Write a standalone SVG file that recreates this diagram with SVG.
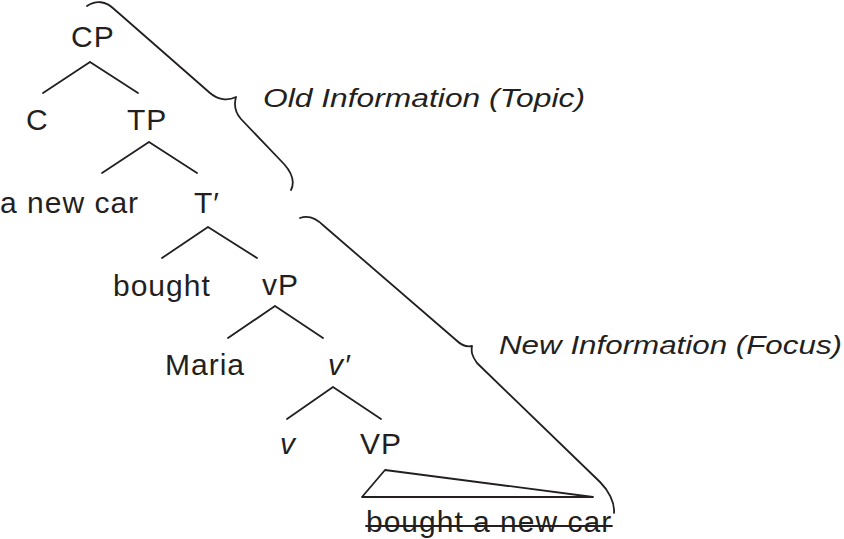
<svg xmlns="http://www.w3.org/2000/svg" width="844" height="539" viewBox="0 0 844 539">
<style>
.t{font-family:"Liberation Sans",Arial,sans-serif;font-size:30px;letter-spacing:1px;fill:#231f20}
.i{font-style:italic}
.l{font-family:"Liberation Sans",Arial,sans-serif;font-size:26px;font-style:italic;fill:#231f20}
.e{stroke:#231f20;stroke-width:1.8;fill:none;stroke-linecap:round;stroke-linejoin:round}
</style>
<rect width="844" height="539" fill="#fff"/>
<g id="connectors" class="e">
<path d="M90,62 L43,93 M90,62 L138,93"/>
<path d="M149,142 L102,173 M149,142 L197,173"/>
<path d="M208,227 L162,258 M208,227 L257,258"/>
<path d="M275,306 L228,338 M275,306 L323,338"/>
<path d="M333,387 L287,419 M333,387 L381,419"/>
<path d="M385,470 L362,497 L593,497 Z"/>
<path d="M366,526 L612,526"/>
</g>
<g id="brace-old" class="e">
<path d="M87,6 C96,0 106,1 114,9 L210,93 C218,100 228,101 236,97 C234,104 234,111 241,119 L284,164 C292,173 295,182 291,190"/>
</g>
<g id="brace-new" class="e">
<path d="M300,218 C308,215 316,218 324,226 L456,340 C462,346 467,347 472,346 C471,352 472,356 477,363 L600,482 C608,490 615,502 614,513"/>
</g>
<g id="n-cp"><text class="t" x="71" y="47">CP</text></g>
<g id="n-c"><text class="t" x="26" y="130">C</text></g>
<g id="n-tp"><text class="t" x="127" y="130">TP</text></g>
<g id="n-anewcar"><text class="t" x="0" y="213">a new car</text></g>
<g id="n-tbar"><text class="t" x="194" y="213">T′</text></g>
<g id="n-bought"><text class="t" x="113" y="296">bought</text></g>
<g id="n-vp"><text class="t" x="262" y="295">vP</text></g>
<g id="n-maria"><text class="t" x="165" y="375">Maria</text></g>
<g id="n-vbar"><text class="t i" x="328" y="375">v′</text></g>
<g id="n-v"><text class="t i" x="280" y="454">v</text></g>
<g id="n-VP"><text class="t" x="360" y="454">VP</text></g>
<g id="n-trace"><text class="t" x="366" y="532">bought a new car</text></g>
<g id="label-old"><text class="l" x="263" y="107" textLength="322" lengthAdjust="spacingAndGlyphs">Old Information (Topic)</text></g>
<g id="label-new"><text class="l" x="499" y="354" textLength="343" lengthAdjust="spacingAndGlyphs">New Information (Focus)</text></g>
</svg>
